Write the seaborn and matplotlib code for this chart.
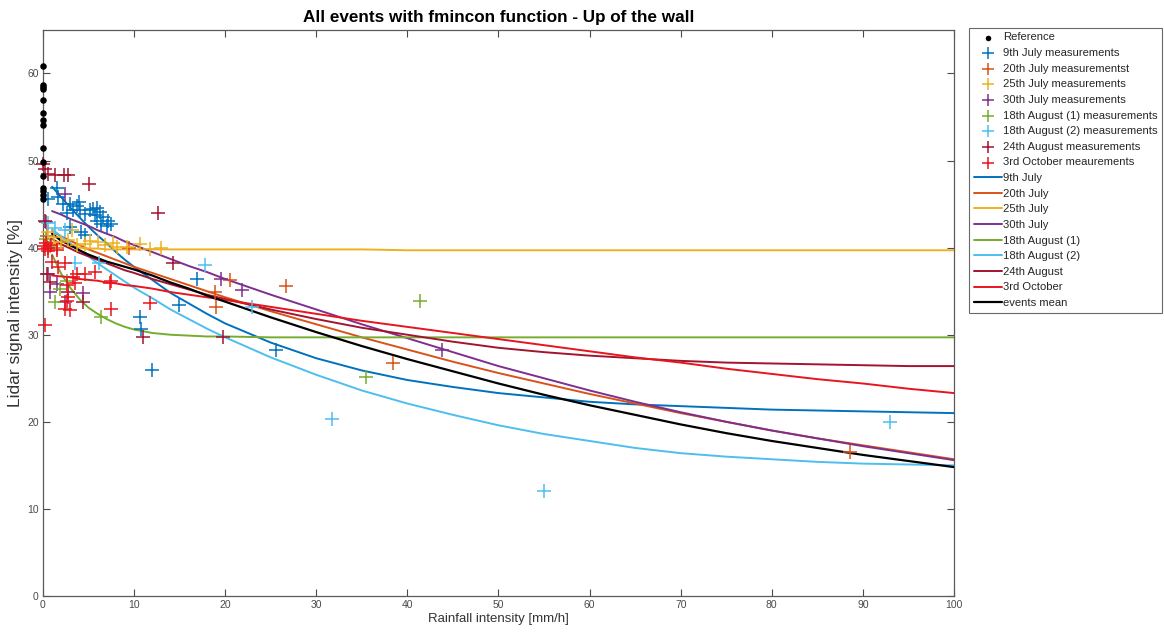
import matplotlib
matplotlib.use("Agg")
import matplotlib.pyplot as plt
import seaborn as sns

# ---- reference readings (rainfall = 0) ----
ref_y = [60.9, 58.7, 58.5, 58.2, 56.9, 55.5, 54.7, 54.1, 51.5, 49.8,
         48.2, 46.9, 46.5, 46.1, 45.6]

# ---- measurements per event (rainfall [mm/h], lidar intensity [%]) ----
jul09_x = [0.6, 1.5, 1.7, 2.2, 3.0, 3.3, 3.7, 4.1, 4.6, 5.2, 5.5, 5.9, 6.3, 5.7, 6.6,
           7.1, 7.5, 7.0, 6.4, 5.9, 3.0, 4.2, 4.6, 10.6, 10.8, 12.0, 14.9, 16.9, 25.6, 2.6, 4.0]
jul09_y = [45.6, 46.9, 45.8, 45.0, 45.0, 44.3, 44.8, 44.3, 43.9, 44.3, 44.4, 44.6, 44.1, 43.7, 43.5,
           43.1, 42.7, 42.5, 42.7, 43.1, 42.4, 41.8, 41.4, 32.0, 30.7, 26.0, 33.4, 36.4, 28.3, 44.0, 45.2]

jul20_x = [0.4, 1.5, 9.4, 18.9, 19.0, 20.5, 26.7, 38.4, 88.6]
jul20_y = [41.3, 40.0, 40.0, 34.9, 33.2, 36.3, 35.6, 26.8, 16.5]

jul25_x = [0.5, 1.2, 2.0, 2.8, 3.7, 4.6, 5.2, 6.0, 6.8, 7.7, 8.1, 9.2, 10.6, 11.7, 13.0, 3.2]
jul25_y = [41.8, 41.2, 40.7, 40.9, 40.3, 40.4, 40.8, 40.6, 40.3, 40.5, 40.1, 40.1, 40.4, 39.8, 40.0, 42.0]

jul30_x = [0.3, 0.6, 0.8, 2.4, 2.4, 4.4, 19.5, 21.9, 43.8, 1.5]
jul30_y = [42.9, 37.0, 34.9, 46.2, 33.8, 34.8, 36.4, 35.1, 28.2, 35.8]

aug18a_x = [0.3, 1.3, 1.9, 2.6, 6.4, 35.5, 41.4, 0.8]
aug18a_y = [41.0, 33.8, 35.2, 36.2, 32.0, 25.2, 33.9, 40.2]

aug18b_x = [0.5, 1.3, 2.4, 3.5, 6.1, 17.8, 22.9, 31.7, 55.0, 93.0]
aug18b_y = [42.8, 42.2, 42.0, 38.2, 38.2, 38.0, 33.2, 20.3, 12.1, 20.0]

aug24_x = [0.0, 0.2, 0.6, 1.3, 2.3, 2.8, 5.0, 0.2, 0.4, 0.8, 2.8, 4.4, 11.0, 12.6, 14.3, 19.8]
aug24_y = [49.6, 49.0, 48.5, 48.3, 48.4, 48.3, 47.3, 43.1, 37.0, 36.1, 34.9, 33.8, 29.7, 44.0, 38.2, 29.7]

oct03_x = [0.1, 0.2, 0.3, 0.5, 0.6, 0.9, 1.0, 1.7, 2.4, 3.3, 3.7, 4.6, 5.7, 7.5, 2.6, 3.5, 2.8,
           2.6, 2.4, 3.0, 7.5, 0.2, 11.7, 7.4, 1.5]
oct03_y = [40.2, 39.8, 40.5, 40.0, 39.6, 40.3, 38.3, 37.8, 38.2, 36.6, 37.0, 37.0, 37.2, 36.2, 35.7, 35.9, 34.3,
           33.9, 33.0, 32.8, 33.0, 31.1, 33.6, 35.9, 39.7]

# ---- fitted curves (fmincon), sampled on a common rainfall grid ----
fit_x = [1, 2, 3, 4, 5, 6, 7, 8, 9, 10, 12, 14, 16, 18, 20, 25, 30, 35, 40, 45,
         50, 55, 60, 65, 70, 75, 80, 85, 90, 95, 100]
fit_jul09 = [47.0, 45.8, 44.6, 43.5, 42.4, 41.4, 40.5, 39.5, 38.6, 37.8, 36.3, 34.8, 33.6, 32.4, 31.3,
             29.1, 27.3, 25.9, 24.8, 24.0, 23.3, 22.8, 22.3, 22.0, 21.8, 21.6, 21.4, 21.3, 21.2, 21.1, 21.0]
fit_jul20 = [41.9, 41.3, 40.8, 40.3, 39.8, 39.4, 39.0, 38.6, 38.2, 37.8, 37.1, 36.4, 35.7, 35.0, 34.3,
             32.7, 31.2, 29.7, 28.3, 26.9, 25.6, 24.4, 23.2, 22.1, 21.0, 20.0, 19.0, 18.1, 17.3, 16.5, 15.7]
fit_jul25 = [40.6, 40.3, 40.1, 40.0, 39.9, 39.9, 39.8, 39.8, 39.8, 39.8, 39.8, 39.8, 39.8, 39.8, 39.8,
             39.8, 39.8, 39.8, 39.7, 39.7, 39.7, 39.7, 39.7, 39.7, 39.7, 39.7, 39.7, 39.7, 39.7, 39.7, 39.7]
fit_jul30 = [44.2, 43.8, 43.3, 42.9, 42.5, 42.0, 41.6, 41.2, 40.7, 40.3, 39.5, 38.7, 37.9, 37.2, 36.4,
             34.6, 32.9, 31.2, 29.6, 28.0, 26.4, 25.0, 23.6, 22.3, 21.1, 20.0, 19.0, 18.1, 17.2, 16.4, 15.6]
fit_aug18a = [39.2, 37.0, 35.4, 34.1, 33.1, 32.4, 31.8, 31.3, 30.9, 30.6, 30.2, 30.0, 29.9, 29.8, 29.8,
              29.7, 29.7, 29.7, 29.7, 29.7, 29.7, 29.7, 29.7, 29.7, 29.7, 29.7, 29.7, 29.7, 29.7, 29.7, 29.7]
fit_aug18b = [42.1, 41.3, 40.5, 39.7, 39.0, 38.2, 37.5, 36.8, 36.1, 35.4, 34.2, 32.9, 31.8, 30.7, 29.7,
              27.4, 25.4, 23.6, 22.1, 20.8, 19.6, 18.6, 17.8, 17.0, 16.4, 16.0, 15.7, 15.4, 15.2, 15.1, 15.0]
fit_aug24 = [41.0, 40.4, 39.9, 39.4, 39.0, 38.6, 38.2, 37.8, 37.4, 37.1, 36.4, 35.8, 35.2, 34.6, 34.1,
             32.9, 31.8, 30.8, 30.0, 29.2, 28.5, 28.0, 27.6, 27.3, 27.0, 26.8, 26.7, 26.6, 26.5, 26.4, 26.4]
fit_oct03 = [36.8, 36.7, 36.6, 36.4, 36.3, 36.2, 36.0, 35.9, 35.7, 35.6, 35.3, 34.9, 34.6, 34.3, 34.0,
             33.2, 32.4, 31.6, 30.9, 30.2, 29.5, 28.8, 28.1, 27.4, 26.8, 26.1, 25.5, 24.9, 24.4, 23.8, 23.3]
fit_mean = [41.6, 40.8, 40.3, 39.7, 39.2, 38.8, 38.4, 38.1, 37.8, 37.5, 36.8, 36.0, 35.3, 34.5, 33.8,
            32.0, 30.3, 28.7, 27.2, 25.8, 24.4, 23.1, 21.9, 20.8, 19.7, 18.7, 17.8, 17.0, 16.2, 15.5, 14.8]

event_names = ["9th July", "20th July", "25th July", "30th July",
               "18th August (1)", "18th August (2)", "24th August", "3rd October"]
meas_labels = ["9th July measurements", "20th July measurementst", "25th July measurements",
               "30th July measurements", "18th August (1) measurements",
               "18th August (2) measurements", "24th August measurements",
               "3rd October meaurements"]
colors = ["#0072BD", "#D95319", "#EDB120", "#7E2F8E", "#77AC30", "#4DBEEE", "#A2142F", "#E8141E"]

meas = [(jul09_x, jul09_y), (jul20_x, jul20_y), (jul25_x, jul25_y), (jul30_x, jul30_y),
        (aug18a_x, aug18a_y), (aug18b_x, aug18b_y), (aug24_x, aug24_y), (oct03_x, oct03_y)]
fits = [fit_jul09, fit_jul20, fit_jul25, fit_jul30, fit_aug18a, fit_aug18b, fit_aug24, fit_oct03]

sns.set_theme(style="white")
plt.rcParams["font.family"] = ["Liberation Sans", "DejaVu Sans"]

fig = plt.figure(figsize=(11.64, 6.32), dpi=100)
ax = fig.add_axes([0.0369, 0.057, 0.7827, 0.8956])

handles, labels = [], []

sns.scatterplot(x=[0.0] * len(ref_y), y=ref_y, ax=ax, color="black", marker="o",
                s=22, edgecolor="black", linewidth=0, zorder=6, legend=False, clip_on=False)
handles.append(ax.collections[-1]); labels.append("Reference")

for (mx, my), col, lab in zip(meas, colors, meas_labels):
    sns.scatterplot(x=mx, y=my, ax=ax, color=col, marker="+", s=95, linewidth=1.1,
                    zorder=4, legend=False, clip_on=False)
    handles.append(ax.collections[-1]); labels.append(lab)

for fy, col, lab in zip(fits, colors, event_names):
    sns.lineplot(x=fit_x, y=fy, ax=ax, color=col, linewidth=1.4, zorder=3, legend=False)
    handles.append(ax.lines[-1]); labels.append(lab)

sns.lineplot(x=fit_x, y=fit_mean, ax=ax, color="black", linewidth=1.6, zorder=3, legend=False)
handles.append(ax.lines[-1]); labels.append("events mean")

ax.set_xlim(0, 100)
ax.set_ylim(0, 65)
ax.set_xticks(range(0, 101, 10))
ax.set_yticks(range(0, 61, 10))
ax.tick_params(direction="in", length=5, width=0.8, colors="#4a4a4a", labelsize=7.5,
               top=True, right=True, bottom=True, left=True, pad=3)
for sp in ax.spines.values():
    sp.set_color("#5a5a5a")
    sp.set_linewidth(0.9)

ax.set_xlabel("Rainfall intensity [mm/h]", fontsize=9.5, color="#333333", labelpad=2)
ax.set_ylabel("Lidar signal intensity [%]", fontsize=12.5, color="#333333", labelpad=3)
ax.set_title("All events with fmincon function - Up of the wall", fontsize=12.3,
             fontweight="bold", color="black", pad=6)

leg = fig.legend(handles, labels, loc="upper left", bbox_to_anchor=(0.8325, 0.9557),
                 fontsize=8.1, frameon=True, fancybox=False, edgecolor="#444444",
                 borderpad=0.4, labelspacing=0.5, handlelength=2.5, handletextpad=0.1,
                 borderaxespad=0.0, scatterpoints=1, markerscale=0.85)
leg.get_frame().set_linewidth(0.8)

fig.savefig("out.png", dpi=100, facecolor="white")
